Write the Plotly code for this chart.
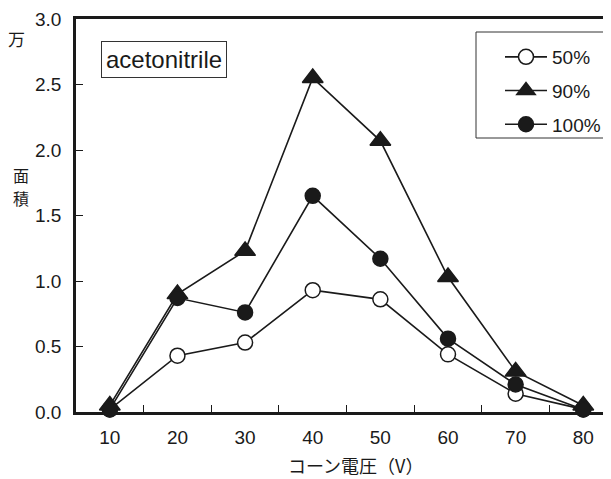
import plotly.graph_objects as go

voltage = [10, 20, 30, 40, 50, 60, 70, 80]
area_50 = [0.02, 0.43, 0.53, 0.93, 0.86, 0.44, 0.14, 0.02]
area_90 = [0.05, 0.90, 1.23, 2.55, 2.07, 1.03, 0.31, 0.05]
area_100 = [0.02, 0.87, 0.76, 1.65, 1.17, 0.56, 0.21, 0.02]
series_names = ["50%", "90%", "100%"]
x_ticks = [10, 20, 30, 40, 50, 60, 70, 80]
x_minor = [15, 25, 35, 45, 55, 65, 75]
y_ticks = [0.0, 0.5, 1.0, 1.5, 2.0, 2.5, 3.0]

FONT = "Liberation Sans, Arial, sans-serif"
CJK = "Noto Sans CJK JP, sans-serif"

# page is offset by the 8px body margin, so figure is 603x471
W, H = 603, 471
L, T, B = 68, 11, 67
pw, ph = W - L, H - T - B


def paper(px, py):
    """page pixel -> paper coords"""
    fx, fy = px - 8, py - 8
    return (fx - L) / pw, (H - B - fy) / ph


fig = go.Figure()
styles = [
    dict(symbol="circle", color="white", size=15),
    dict(symbol="triangle-up", color="#1a1a1a", size=18),
    dict(symbol="circle", color="#1a1a1a", size=15),
]
for name, vals, st in zip(series_names, [area_50, area_90, area_100], styles):
    fig.add_trace(go.Scatter(
        x=voltage, y=vals, name=name, mode="lines+markers",
        legendgroup=name,
        line=dict(color="#1a1a1a", width=1.6),
        marker=dict(symbol=st["symbol"], size=st["size"], color=st["color"],
                    line=dict(color="#1a1a1a", width=1.5)),
        cliponaxis=False,
    ))

# legend frame (page px) and legend item origin
fx0, fy0 = paper(476, 32)
fx1, fy1 = paper(609, 138)
lx, ly = paper(500, 38)
ax1, ay1 = paper(16, 38)
ax2, ay2 = paper(21, 175)
ax3, ay3 = paper(21, 198)
tx, ty = paper(355, 465)
bx, by = paper(101, 59)

fig.update_layout(
    width=W, height=H,
    margin=dict(l=L, r=0, t=T, b=B),
    plot_bgcolor="white", paper_bgcolor="white",
    font=dict(family=FONT, size=19, color="#1a1a1a"),
    showlegend=True,
    legend=dict(
        x=lx, y=ly, xanchor="left", yanchor="top",
        borderwidth=0, bgcolor="rgba(0,0,0,0)",
        font=dict(size=19, family=FONT),
        traceorder="grouped", tracegroupgap=6,
        itemwidth=42,
    ),
    shapes=[
        dict(type="rect", xref="paper", yref="paper", x0=fx0, y0=fy0, x1=fx1, y1=fy1,
             line=dict(color="#333", width=1), fillcolor="white", layer="below"),
    ],
    xaxis=dict(
        range=[5, 84.1], tickvals=x_ticks, ticks="", showgrid=False,
        zeroline=False, showline=True, linecolor="#1a1a1a", linewidth=2.5,
        mirror=True,
        minor=dict(tickvals=x_minor, ticks="inside", ticklen=7, tickcolor="#1a1a1a", tickwidth=1),
        tickfont=dict(size=19, family=FONT),
        ticklabelstandoff=6,
        automargin=False,
    ),
    yaxis=dict(
        range=[0, 3.0], tickvals=y_ticks, ticktext=[f"{v:.1f}" for v in y_ticks],
        ticks="inside", ticklen=7, tickwidth=1, tickcolor="#1a1a1a",
        showgrid=False, zeroline=False, showline=True, linecolor="#1a1a1a", linewidth=2.5,
        tickfont=dict(size=19, family=FONT), automargin=False,
        ticklabelstandoff=8,
    ),
    annotations=[
        dict(text="万", x=ax1, y=ay1, xref="paper", yref="paper", showarrow=False,
             xanchor="center", yanchor="middle", font=dict(family=CJK, size=17)),
        dict(text="面", x=ax2, y=ay2, xref="paper", yref="paper", showarrow=False,
             xanchor="center", yanchor="middle", font=dict(family=CJK, size=16)),
        dict(text="積", x=ax3, y=ay3, xref="paper", yref="paper", showarrow=False,
             xanchor="center", yanchor="middle", font=dict(family=CJK, size=16)),
        dict(text="コーン電圧（V）", x=tx, y=ty, xref="paper", yref="paper", showarrow=False,
             xanchor="center", yanchor="middle", font=dict(family=CJK, size=18)),
        dict(text="acetonitrile", xref="paper", yref="paper", x=bx, y=by,
             xanchor="left", yanchor="middle", showarrow=False,
             bordercolor="#333", borderwidth=1, borderpad=4, bgcolor="white",
             font=dict(family=FONT, size=24)),
    ],
)

fig.write_html("out.html")
